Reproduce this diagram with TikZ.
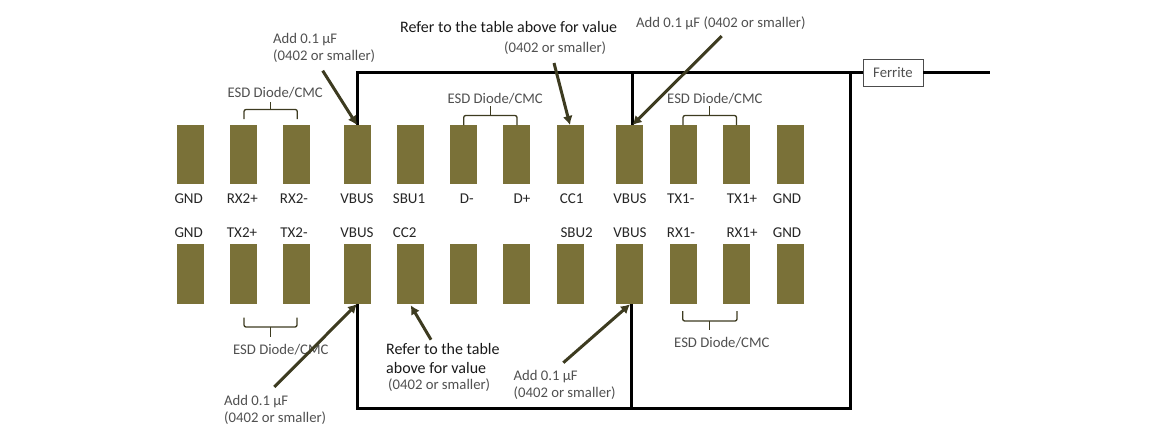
\documentclass[tikz,border=0pt]{standalone}
\usepackage{fontspec}
\setmainfont{Carlito}
\usetikzlibrary{arrows.meta}
\definecolor{padcol}{HTML}{7A7138}
\definecolor{arrcol}{HTML}{3D3B20}
\definecolor{notecol}{HTML}{505050}
\definecolor{labcol}{HTML}{262626}
\tikzset{
  padbox/.style={fill=padcol,draw=none,inner sep=0pt,minimum width=27pt,minimum height=59.5pt},
  pinlab/.style={anchor=base,text=labcol,font=\fontsize{15}{18}\selectfont,inner sep=0pt,yshift=-.7pt},
  note/.style={anchor=base west,text=notecol,font=\fontsize{14.7}{18}\selectfont,inner sep=0pt,yshift=-.5pt},
  refnote/.style={anchor=base west,text=black!90,font=\fontsize{16}{20}\selectfont,inner sep=0pt,yshift=-.5pt},
  wire/.style={draw=black,line width=3pt,line join=miter},
  thinwire/.style={draw=black,line width=3pt},
  callout/.style={draw=arrcol,line width=3pt,-{Latex[length=9pt,width=10pt]},shorten >=0pt},
  bracket/.style={draw=arrcol,line width=1.3pt,rounded corners=2pt},
  ferritebox/.style={draw=black!70,line width=.8pt,fill=white,inner sep=0pt,minimum width=60pt,minimum height=27pt,text=notecol,font=\fontsize{14.7}{18}\selectfont}
}
\begin{document}
\begin{tikzpicture}[x=1pt,y=-1pt]
\useasboundingbox (0,0) rectangle (1169,437);
% pads
\foreach \n/\x in {a/190.5,b/243.5,c/296.5,d/357,e/410,f/463.5,g/516.5,h/570,i/629.5,j/683.5,k/736,l/790}{
  \node[padbox] (t\n) at (\x,154.7) {};
  \node[padbox] (u\n) at (\x,274) {};
}
% pin labels top
\foreach \n/\t/\x in {gnda/GND/188.7,rxa/RX2+/242.3,rxb/RX2-/294,vba/VBUS/357,sbu/SBU1/409,dm/D-/466.7,dp/D+/522,cca/CC1/571.7,vbb/VBUS/630,txa/TX1-/680.7,txb/TX1+/742,gndb/GND/787}{
  \node[pinlab] (l\n) at (\x,202.7) {\t};
}
% pin labels bottom
\foreach \n/\t/\x in {gnda/GND/188.7,txa/TX2+/242,txb/TX2-/294,vba/VBUS/357,ccb/CC2/404.7,sbu/SBU2/576.7,vbb/VBUS/630,rxa/RX1-/681,rxb/RX1+/742,gndb/GND/787}{
  \node[pinlab] (m\n) at (\x,236.3) {\t};
}
% ferrite and rail
\node[ferritebox] (fer) at (893,72.5) {Ferrite};
\coordinate (railend) at (990,72.5);
\coordinate (railtl) at (357,72.5);
\coordinate (railmid) at (632.5,72.5);
\coordinate (railr) at (850,72.5);
\coordinate (botl) at (357,408.5);
\coordinate (botm) at (631,408.5);
\coordinate (botr) at (850,408.5);
\coordinate (tdw) at (357,125);
\coordinate (tiw) at (632.5,125);
\coordinate (udw) at (357,304);
\coordinate (uiw) at (631,304);
\draw[wire] (tdw) -- (railtl) -- (fer.west);
\draw[wire] (fer.east) -- (railend);
\draw[thinwire] (railmid) -- (tiw);
\draw[wire] (railr) -- (botr) -- (botl) -- (udw);
\draw[thinwire] (botm) -- (uiw);
% braces
\draw[bracket] (244,119) -- (244,109.5) -- (297.3,109.5) -- (297.3,119);
\draw[bracket] (270.6,109.5) -- (270.6,102);
\draw[bracket] (463.7,125) -- (463.7,115.5) -- (517,115.5) -- (517,125);
\draw[bracket] (490.3,115.5) -- (490.3,106);
\draw[bracket] (683,125) -- (683,115.5) -- (736.5,115.5) -- (736.5,125);
\draw[bracket] (709.8,115.5) -- (709.8,106);
\draw[bracket] (244,317.7) -- (244,327) -- (297,327) -- (297,317.7);
\draw[bracket] (270.5,327) -- (270.5,337);
\draw[bracket] (682.7,311) -- (682.7,321) -- (737,321) -- (737,311);
\draw[bracket] (709.8,321) -- (709.8,330);
% notes
\node[note] (n1) at (273,42.7) {Add 0.1 µF};
\node[note] (n1b) at (273,60) {(0402 or smaller)};
\node[refnote] (r1) at (400,31.7) {Refer to the table above for value};
\node[note] (r1b) at (504,52) {(0402 or smaller)};
\node[note] (n2) at (636,26.7) {Add 0.1 µF (0402 or smaller)};
\node[note] (e1) at (227.3,97) {ESD Diode/CMC};
\node[note] (e2) at (447.3,103.3) {ESD Diode/CMC};
\node[note] (e3) at (667,103.3) {ESD Diode/CMC};
\node[note] (e4) at (233,353.7) {ESD Diode/CMC};
\node[note] (e5) at (674,347) {ESD Diode/CMC};
\node[note] (n3) at (224,404.7) {Add 0.1 µF};
\node[note] (n3b) at (224,422) {(0402 or smaller)};
\node[refnote] (r2) at (386,353.7) {Refer to the table};
\node[refnote] (r2b) at (386,372.7) {above for value};
\node[note] (r2c) at (388,389.3) {(0402 or smaller)};
\node[note] (n4) at (513.5,380.3) {Add 0.1 µF};
\node[note] (n4b) at (513.5,397.3) {(0402 or smaller)};
% callouts
\coordinate (c1) at (322.7,70.7);
\coordinate (c2) at (554,63);
\coordinate (c3) at (721.7,36);
\coordinate (c4) at (274.3,387);
\coordinate (c5) at (431,339.7);
\coordinate (c6) at (563.3,362.7);
\coordinate (p5) at (410.7,305.3);
\coordinate (p2) at (570,125);
\coordinate (p6) at (630,304.3);
\draw[callout] (c1) -- (tdw);
\draw[callout] (c2) -- (p2);
\draw[callout] (c3) -- (tiw);
\draw[callout] (c4) -- (udw);
\draw[callout] (c5) -- (p5);
\draw[callout] (c6) -- (p6);
\end{tikzpicture}
\end{document}
